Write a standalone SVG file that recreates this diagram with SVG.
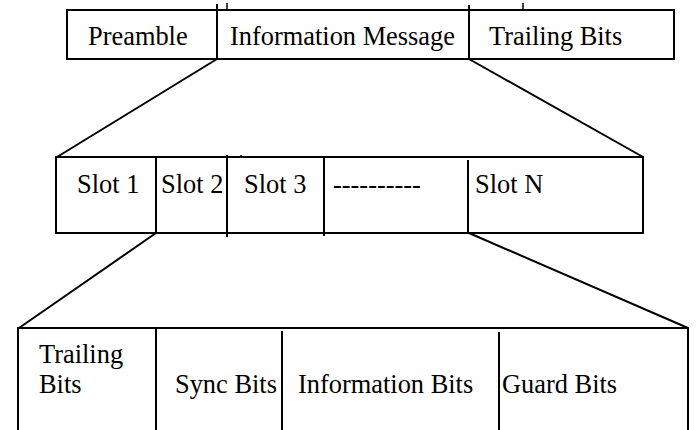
<svg xmlns="http://www.w3.org/2000/svg" width="697" height="430" viewBox="0 0 697 430">
<style>
.box{fill:#fff;stroke:#000;stroke-width:2}
.div{stroke:#000;stroke-width:2;fill:none}
.tick{stroke:#000;stroke-width:1.5;fill:none}
.con{stroke:#000;stroke-width:2;fill:none}
text{font-family:'Liberation Serif','Times New Roman',Times,'DejaVu Serif',serif;font-size:26.4px;fill:#000}
</style>
<rect width="697" height="430" fill="#fff"/>
<g id="connectors">
<line class="con" x1="217" y1="59" x2="57" y2="157"/>
<line class="con" x1="469" y1="59" x2="643" y2="157"/>
<line class="con" x1="156" y1="233" x2="19" y2="328"/>
<line class="con" x1="469" y1="233" x2="688" y2="328"/>
</g>
<g id="frame" font-family="Liberation Serif, serif">
<rect class="box" x="67" y="10" width="607" height="49"/>
<line class="div" x1="217" y1="4" x2="217" y2="59"/>
<line class="div" x1="469" y1="5" x2="469" y2="59"/>
<line class="tick" x1="227" y1="3" x2="227" y2="10"/>
<line class="tick" x1="523" y1="3" x2="523" y2="10"/>
<text x="88" y="45">Preamble</text>
<text x="230" y="45">Information Message</text>
<text x="489" y="45">Trailing Bits</text>
</g>
<g id="slots">
<rect class="box" x="56" y="157" width="587" height="76"/>
<line class="div" x1="156" y1="157" x2="156" y2="233"/>
<line class="div" x1="227" y1="155" x2="227" y2="237"/>
<line class="div" x1="324" y1="157" x2="324" y2="236"/>
<line class="div" x1="468" y1="160" x2="468" y2="233"/>
<line class="tick" x1="241" y1="155" x2="241" y2="157"/>
<text x="77" y="193">Slot 1</text>
<text x="161" y="193">Slot 2</text>
<text x="244" y="193">Slot 3</text>
<text x="333" y="193">----------</text>
<text x="475" y="193">Slot N</text>
</g>
<g id="slot">
<path class="div" d="M18 432 V328 H688 V432"/>
<line class="div" x1="156" y1="328" x2="156" y2="432"/>
<line class="div" x1="282" y1="331" x2="282" y2="432"/>
<line class="div" x1="499" y1="332" x2="499" y2="432"/>
<text x="39" y="363">Trailing</text>
<text x="39" y="393">Bits</text>
<text x="175" y="393">Sync Bits</text>
<text x="298" y="393">Information Bits</text>
<text x="502" y="393">Guard Bits</text>
</g>
</svg>
